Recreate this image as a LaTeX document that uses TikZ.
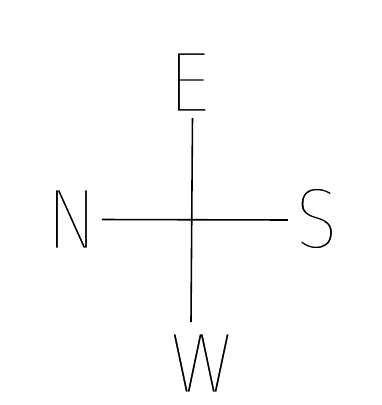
\documentclass[tikz,border=0pt]{standalone}
\usepackage{fontspec}
\newfontfamily\compassfont{DejaVu Sans ExtraLight}
\usepackage{tikz}
% thin the strokes of a letter: fill black, then stroke its outline in white
\newcommand\thinletter[1]{\special{pdf:literal direct 2 Tr 1 G 0.5 w}#1\special{pdf:literal direct 0 Tr 0 G}}
\tikzset{
  axisline/.style={black, line width=0.45pt},
  dirlabel/.style={inner sep=0pt, font=\compassfont\fontsize{23}{27}\selectfont}
}

\begin{document}
\begin{tikzpicture}[x=0.01cm, y=-0.01cm]
\useasboundingbox (0,0) rectangle (382,405);

% letters round the cross
\node[dirlabel] (east) at (190.5,82) {\scalebox{0.85}[1]{\thinletter{E}}};
\node[dirlabel] (north) at (72.5,219) {\scalebox{0.85}[1]{\thinletter{N}}};
\node[dirlabel] (south) at (316.5,218.5) {\scalebox{0.85}[1]{\thinletter{S}}};
\node[dirlabel] (west) at (202,363) {\scalebox{0.85}[1]{\thinletter{W}}};

% ends of the cross
\coordinate (top) at (192.5,118);
\coordinate (bottom) at (191,322);
\coordinate (left) at (102,219.5);
\coordinate (right) at (288,220);

\draw[axisline] (top)--(bottom);
\draw[axisline] (left)--(right);
\end{tikzpicture}
\end{document}
